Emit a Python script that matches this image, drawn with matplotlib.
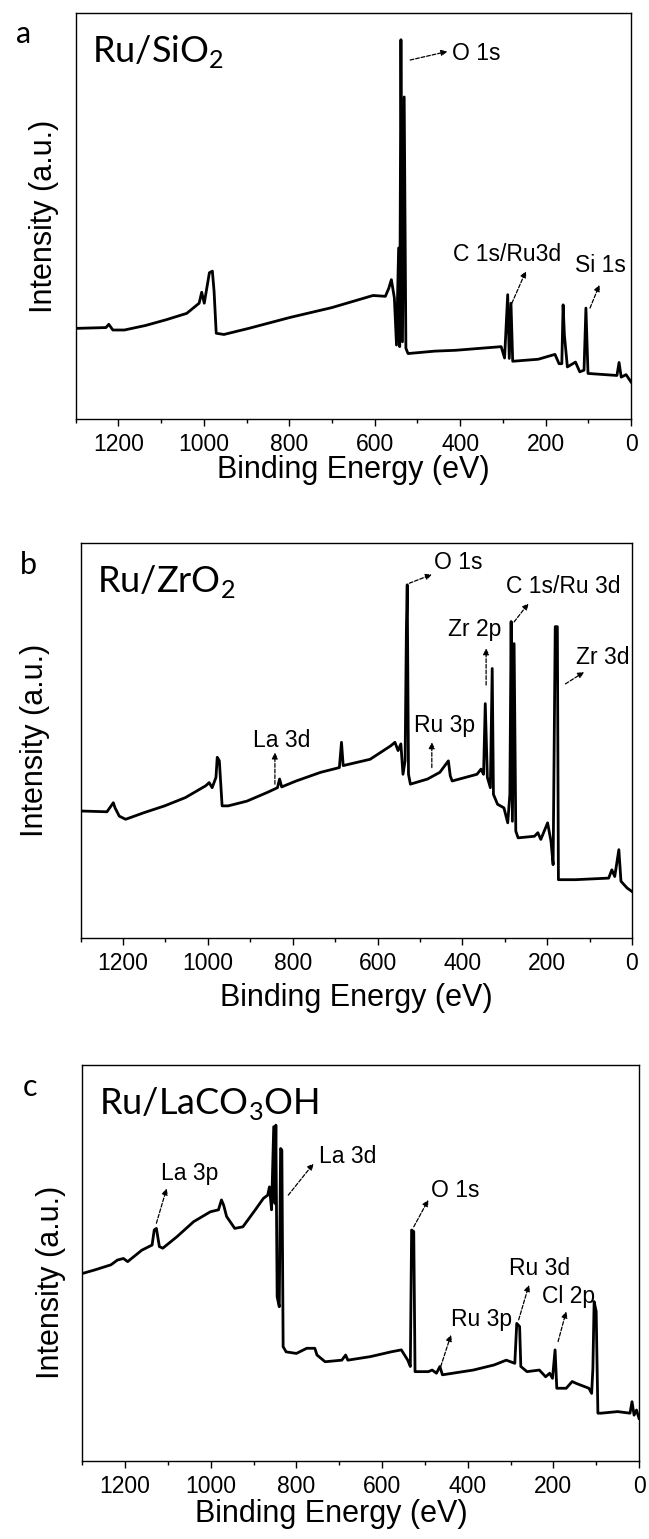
import numpy as np
import matplotlib
matplotlib.use("Agg")
import matplotlib.pyplot as plt
from matplotlib.ticker import MultipleLocator, NullLocator

plt.rcParams['font.family'] = ['Liberation Sans', 'DejaVu Sans']

# ---- survey spectra (binding energy in eV, intensity in % of axis height)
si_energy = [1300, 1229, 1222.5, 1213, 1186, 1137, 1089, 1040, 1011, 1005, 999, 987, 980,
             976, 971, 953, 895, 798, 701, 604, 575, 567, 561, 554, 549, 544, 541.5,
             538.6, 535, 531, 527, 522, 459, 411, 304, 296, 288.7, 285, 281, 277, 217,
             178, 168.5, 162, 159, 156, 149, 130, 120, 110, 105.6, 100.7, 33, 28, 23,
             11.6, 0]
si_intensity = [22.3, 22.5, 23.3, 21.9, 21.9, 23.0, 24.4, 26.0, 28.5, 31.2, 28.5, 36.0, 36.4,
                31.4, 21.1, 20.8, 22.3, 25.0, 27.4, 30.4, 30.2, 32.2, 34.3, 29.8, 18.2, 42.1,
                17.8, 93.4, 19.0, 79.3, 17.4, 16.1, 16.7, 16.9, 17.8, 15.0, 30.6, 14.9, 28.5,
                14.2, 14.7, 15.9, 13.6, 13.6, 28.1, 20.7, 12.8, 14.0, 11.6, 12.0, 27.3, 11.2,
                10.7, 13.9, 10.3, 10.9, 9.1]

zr_energy = [1300, 1238, 1223, 1219, 1209, 1194, 1150, 1102, 1053, 1005, 997, 990, 981, 978,
             973, 966.5, 952, 908, 860, 836, 831, 826, 792, 734, 690, 685, 681, 617.5, 569,
             559, 551.6, 545, 540, 535, 532, 530, 527, 522.5, 482, 453, 433, 428.5, 424,
             365.5, 356, 350, 346, 341, 334, 329.6, 326.7, 317, 302, 293, 288, 285, 282,
             278, 274, 268.5, 230, 222, 215, 199, 191, 186, 181, 176, 173.5, 133, 55, 47.5,
             40.7, 31, 26, 11.6, 0]
zr_intensity = [32.1, 31.9, 34.2, 32.9, 30.8, 30.0, 31.7, 33.4, 35.5, 38.5, 39.3, 38.0, 40.6,
                45.7, 44.8, 33.4, 33.4, 34.6, 36.8, 38.0, 40.2, 38.2, 39.7, 41.9, 43.1, 49.5,
                43.6, 45.2, 48.6, 49.5, 47.4, 49.1, 41.4, 44.8, 77.9, 89.4, 41.4, 38.9, 40.2,
                41.9, 44.8, 41.0, 39.7, 41.4, 42.7, 41.4, 59.3, 40.6, 38.0, 68.2, 36.3, 33.8,
                32.9, 29.1, 36.3, 80.1, 29.5, 74.5, 27.0, 25.3, 25.7, 26.6, 24.9, 29.1, 24.4,
                18.5, 78.8, 78.8, 14.7, 14.7, 15.1, 17.2, 15.5, 22.3, 14.3, 12.6, 11.7]

la_energy = [1300, 1271, 1233, 1218, 1204, 1194, 1185, 1161, 1137, 1132, 1127, 1120, 1112,
             1079, 1040, 1001, 982, 975, 970, 963, 944, 925, 896, 877, 867, 863, 858, 853,
             850, 848, 845, 840, 837, 834, 831, 824, 800, 776, 757, 752, 733, 694, 685, 680,
             627, 579, 555, 540, 534, 531, 526, 523, 492, 483, 473, 465, 459, 435, 387, 338,
             310, 290, 285.5, 278.8, 276, 261.5, 232.7, 218, 208.6, 202, 196, 192, 170, 156,
             146, 117, 110.6, 107.7, 104.8, 100, 96, 88.5, 50, 21, 16.3, 11.5, 5.8, 0]
la_intensity = [47.3, 48.2, 49.5, 50.7, 51.1, 50.3, 51.1, 53.2, 54.5, 58.3, 58.7, 54.1, 53.7,
                56.6, 60.4, 62.9, 63.4, 65.9, 64.6, 61.7, 58.7, 59.1, 63.4, 66.3, 67.1, 69.2,
                63.4, 84.4, 65.0, 84.8, 41.4, 38.9, 78.9, 78.5, 28.8, 27.5, 27.1, 28.4, 28.4,
                26.7, 25.0, 25.4, 26.7, 25.4, 26.3, 27.5, 28.0, 25.4, 23.8, 58.3, 57.9, 22.5,
                22.5, 22.9, 22.1, 23.8, 21.7, 22.1, 22.9, 24.2, 25.4, 24.6, 34.7, 33.9, 23.8,
                22.5, 22.9, 21.2, 22.1, 20.8, 28.0, 18.3, 18.3, 20.0, 19.5, 18.3, 17.0, 23.3,
                40.2, 37.7, 12.0, 12.0, 12.4, 12.0, 14.9, 11.5, 12.8, 10.7]

# peak labels: (text, text energy, text intensity, arrow tail energy, tail intensity, head energy, head intensity)
si_labels = [("O 1s", 362, 90.0, 517, 88.4, 430, 90.5),
             ("C 1s/Ru3d", 290, 40.4, 279, 28.5, 246, 36.4),
             ("Si 1s", 72, 37.8, 96, 27.3, 74, 33.0)]
zr_labels = [("O 1s", 409, 95.0, 525, 89.8, 472, 92.0),
             ("C 1s/Ru 3d", 162, 89.0, 278, 80.0, 244, 84.7),
             ("Zr 2p", 370, 78.0, 344, 64.0, 344, 73.3),
             ("Zr 3d", 70, 71.0, 157, 64.3, 113, 67.3),
             ("Ru 3p", 443, 53.7, 472, 43.1, 472, 49.5),
             ("La 3d", 826, 50.0, 842, 38.9, 842, 46.9)]
la_labels = [("La 3p", 1050, 72.6, 1127, 60.0, 1103, 68.8),
             ("La 3d", 680, 76.8, 819, 67.1, 760, 75.1),
             ("O 1s", 430, 68.4, 526, 59.1, 492, 65.9),
             ("Ru 3d", 233, 48.6, 281, 35.6, 257, 44.4),
             ("Cl 2p", 165, 41.4, 189, 30.1, 170, 37.7),
             ("Ru 3p", 367, 35.6, 463, 23.8, 439, 31.8)]

panels = [
    ("a", "Ru/SiO$_\\mathregular{2}$", si_energy, si_intensity, si_labels,
     [0.1166, 0.7278, 0.8557, 0.2638], -0.03, 0.5, 0.5, -0.088),
    ("b", "Ru/ZrO$_\\mathregular{2}$", zr_energy, zr_intensity, zr_labels,
     [0.1243, 0.3907, 0.8495, 0.2565], -0.055, 0.5, 0.5, -0.115),
    ("c", "Ru/LaCO$_\\mathregular{3}$OH", la_energy, la_intensity, la_labels,
     [0.1268, 0.0509, 0.8578, 0.2571], -0.03, 0.45, 0.447, -0.098),
]

fig = plt.figure(figsize=(6.49, 15.39), dpi=100)

for letter, title, energy, intensity, labels, rect, ylx, yly, xlx, xly in panels:
    ax = fig.add_axes(rect)
    ax.plot(energy, intensity, color="black", linewidth=2.0)
    ax.set_xlim(1300, 0)
    ax.set_ylim(0, 100)
    ax.xaxis.set_major_locator(MultipleLocator(200))
    ax.xaxis.set_minor_locator(MultipleLocator(100))
    ax.yaxis.set_major_locator(NullLocator())
    ax.tick_params(axis="x", which="major", direction="out", length=5, width=1,
                   labelsize=16.5, pad=5)
    ax.tick_params(axis="x", which="minor", direction="out", length=3, width=1)
    for sp in ax.spines.values():
        sp.set_linewidth(1.0)
    ax.set_xlabel("Binding Energy (eV)", fontsize=22)
    ax.xaxis.set_label_coords(xlx, xly)
    ax.set_ylabel("Intensity (a.u.)", fontsize=22)
    ax.yaxis.set_label_coords(ylx, yly)

    ax.text(0.03, 0.95, title, transform=ax.transAxes, fontsize=26,
            family="Lato", va="top", ha="left")
    fig.text(rect[0] - 0.08, rect[1] + rect[3] - 0.014, letter, fontsize=22,
             family="Lato", va="center", ha="center")

    for txt, tx, ty, ax0, ay0, ax1, ay1 in labels:
        ax.text(tx, ty, txt, fontsize=16.5, ha="center", va="center")
        ax.annotate("", xy=(ax1, ay1), xytext=(ax0, ay0),
                    arrowprops=dict(arrowstyle="-|>", lw=0.9, linestyle=(0, (3, 1.5)),
                                    color="black", mutation_scale=9,
                                    shrinkA=0, shrinkB=0))

fig.savefig("out.png", dpi=100)
